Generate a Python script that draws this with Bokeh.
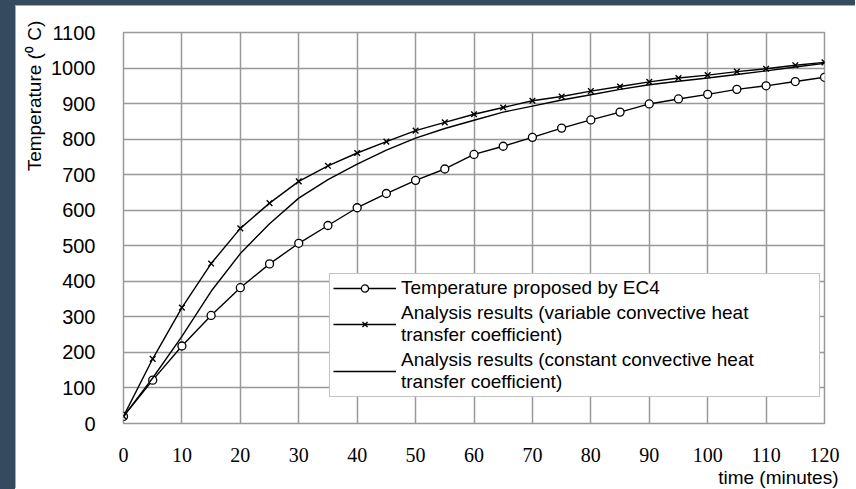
from bokeh.plotting import figure
from bokeh.models import (Range1d, SingleIntervalTicker, Legend, LegendItem,
                          Spacer, Title)
from bokeh.layouts import row, column
from bokeh.embed import file_html
from bokeh.resources import INLINE

# ---- data ----
time_min = [0, 5, 10, 15, 20, 25, 30, 35, 40, 45, 50, 55, 60,
            65, 70, 75, 80, 85, 90, 95, 100, 105, 110, 115, 120]
ec4_temp = [20, 122, 218, 304, 382, 449, 507, 557, 607, 647, 684, 716, 757,
            780, 805, 831, 854, 876, 899, 913, 926, 940, 950, 962, 974]
variable_h = [20, 182, 326, 450, 549, 620, 681, 725, 761, 793, 824, 847, 870,
              889, 908, 920, 935, 948, 961, 972, 980, 990, 998, 1008, 1016]
constant_h = [20, 128, 245, 372, 478, 562, 634, 686, 730, 769, 803, 830, 853,
              876, 893, 910, 925, 940, 953, 963, 972, 982, 992, 1003, 1013]

label_ec4 = "Temperature proposed by EC4"
label_var = "Analysis results (variable convective heat\ntransfer coefficient)"
label_con = "Analysis results (constant convective heat\ntransfer coefficient)"
x_title = "time (minutes)"
y_title = "Temperature  (\u2070 C)"

GRID = "#999999"
DARK = "#354a5f"
EDGE = "#a9a9a9"

p = figure(width=839, height=482, output_backend="svg", toolbar_location=None,
           x_range=Range1d(0, 120), y_range=Range1d(0, 1100),
           min_border_left=107, min_border_right=31, min_border_top=26,
           min_border_bottom=65,
           background_fill_color="white", border_fill_color="white",
           outline_line_color=GRID, outline_line_width=1.5)

p.xaxis.ticker = SingleIntervalTicker(interval=10)
p.yaxis.ticker = SingleIntervalTicker(interval=100)
for ax in (p.xaxis[0], p.yaxis[0]):
    ax.axis_line_color = None
    ax.major_tick_line_color = None
    ax.minor_tick_line_color = None
    ax.major_tick_out = 0
    ax.major_tick_in = 0
    ax.major_label_text_color = "black"

p.xaxis.major_label_text_font = "Liberation Serif"
p.xaxis.major_label_text_font_size = "20px"
p.xaxis.major_label_standoff = 20

p.yaxis.major_label_text_font = "Liberation Sans"
p.yaxis.major_label_text_font_size = "20px"
p.yaxis.major_label_standoff = 24

p.xgrid.grid_line_color = GRID
p.ygrid.grid_line_color = GRID
p.xgrid.grid_line_width = 1.5
p.ygrid.grid_line_width = 1.5

l1 = p.line(time_min, ec4_temp, line_color="black", line_width=1.4)
s1 = p.scatter(time_min, ec4_temp, marker="circle", size=8, line_color="black",
               line_width=1.3, fill_color="white")
l2 = p.line(time_min, variable_h, line_color="black", line_width=1.4)
s2 = p.scatter(time_min, variable_h, marker="x", size=8, line_color="black",
               line_width=1.4)
l3 = p.line(time_min, constant_h, line_color="black", line_width=1.4)

legend = Legend(items=[LegendItem(label=label_ec4, renderers=[l1, s1]),
                       LegendItem(label=label_var, renderers=[l2, s2]),
                       LegendItem(label=label_con, renderers=[l3])],
                location=(206, 26), margin=0, padding=3, spacing=3,
                glyph_width=63, glyph_height=18, label_standoff=5,
                label_width=415, label_height=18,
                label_text_font="Liberation Sans", label_text_font_size="19px",
                label_text_line_height=0.85, label_text_color="black",
                border_line_color="#888888", border_line_width=1.5,
                background_fill_color="white", background_fill_alpha=1.0)
p.add_layout(legend)

# axis titles, right-aligned at the ends of the axes as in the reference
p.add_layout(Title(text=x_title, align="right", offset=-14, standoff=0,
                   text_font="Liberation Sans", text_font_size="19px",
                   text_font_style="normal", text_color="black"), "below")
p.add_layout(Title(text=y_title, align="right", offset=-17, standoff=8,
                   text_font="Liberation Sans", text_font_size="19px",
                   text_font_style="normal", text_color="black"), "left")

top_strip = Spacer(width=855, height=5, styles={"background-color": DARK})
left_strip = Spacer(width=15, height=484, styles={"background-color": DARK})
top_edge = Spacer(width=840, height=1, styles={"background-color": EDGE})
left_edge = Spacer(width=1, height=482, styles={"background-color": EDGE})
layout = column(top_strip,
                row(left_strip, column(top_edge, row(left_edge, p))))

open("out.html", "w").write(file_html(layout, INLINE))
